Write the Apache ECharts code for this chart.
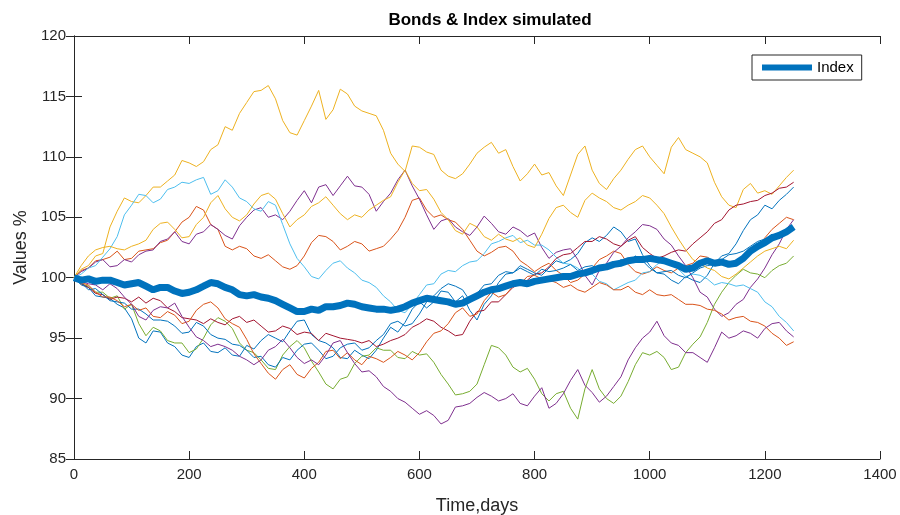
<!DOCTYPE html>
<html>
<head>
<meta charset="utf-8">
<script src="https://cdn.jsdelivr.net/npm/echarts@6/dist/echarts.min.js"></script>
<style>
  html, body { margin: 0; padding: 0; background: #fff; }
  #chart { width: 900px; height: 515px; }
</style>
</head>
<body>
<div id="chart"></div>
<script>
// sample days (every 12.5 days)
const days = [0, 12.5, 25, 37.5, 50, 62.5, 75, 87.5, 100, 112.5, 125, 137.5, 150, 162.5, 175, 187.5, 200, 212.5, 225, 237.5,
  250, 262.5, 275, 287.5, 300, 312.5, 325, 337.5, 350, 362.5, 375, 387.5, 400, 412.5, 425, 437.5, 450, 462.5, 475, 487.5,
  500, 512.5, 525, 537.5, 550, 562.5, 575, 587.5, 600, 612.5, 625, 637.5, 650, 662.5, 675, 687.5, 700, 712.5, 725, 737.5,
  750, 762.5, 775, 787.5, 800, 812.5, 825, 837.5, 850, 862.5, 875, 887.5, 900, 912.5, 925, 937.5, 950, 962.5, 975, 987.5,
  1000, 1012.5, 1025, 1037.5, 1050, 1062.5, 1075, 1087.5, 1100, 1112.5, 1125, 1137.5, 1150, 1162.5, 1175, 1187.5, 1200, 1212.5, 1225, 1237.5,
  1250]

// bonds, values in %
const blue1 = [100, 99.4, 99.2, 98.5, 98.4, 98.3, 97.8, 97.5, 96.6, 95.0, 94.6, 95.6, 95.5, 94.6, 94.3, 93.6, 93.4, 94.3, 94.6, 93.9,
  93.8, 94.2, 93.6, 93.5, 94.4, 94.1, 94.8, 95.3, 95.0, 94.7, 95.6, 96.4, 96.5, 95.3, 94.8, 94.6, 94.2, 93.4, 93.3, 94.0,
  93.6, 93.3, 94.0, 95.0, 95.9, 95.5, 96.3, 97.4, 98.0, 97.5, 98.0, 98.9, 98.8, 98.0, 98.5, 97.3, 96.5, 97.8, 98.5, 99.6,
  100.3, 100.4, 101.0, 100.7, 100.4, 100.2, 100.8, 101.4, 101.2, 101.5, 102.0, 102.9, 103.3, 103.0, 103.5, 104.2, 103.8, 103.0, 103.2, 101.9,
  101.0, 100.4, 100.3, 99.8, 99.5, 100.1, 99.8, 99.6, 100.2, 101.2, 101.8, 102.0, 102.8, 103.9, 104.8, 105.2, 106.0, 105.7, 106.4, 106.9,
  107.5]
const orange1 = [100, 100.6, 100.8, 101.4, 101.5, 101.7, 102.2, 101.5, 101.6, 102.2, 102.3, 102.4, 102.9, 103.1, 103.8, 104.6, 105.0, 105.9, 105.6, 104.4,
  104.0, 102.6, 102.3, 102.6, 102.4, 101.8, 101.6, 101.9, 101.4, 100.9, 100.7, 101.0, 101.8, 102.9, 103.5, 103.4, 103.0, 102.3, 102.6, 103.0,
  102.8, 102.2, 102.4, 102.6, 103.2, 103.9, 105.0, 106.4, 106.6, 105.6, 105.0, 105.2, 104.8, 104.6, 104.0, 103.1, 102.2, 101.8, 102.1, 102.5,
  102.6, 102.2, 101.4, 101.0, 100.5, 100.9, 101.2, 100.6, 100.2, 99.6, 99.8, 100.3, 100.8, 101.5, 101.8, 102.2, 102.0, 101.1, 100.5, 100.3,
  100.5, 100.9, 100.6, 100.4, 100.8, 101.0, 101.2, 101.8, 101.7, 101.3, 101.5, 101.1, 101.3, 101.6, 102.2, 102.6, 103.3, 104.0, 104.5, 105.0,
  104.8]
const yellow1 = [100, 100.7, 101, 101.8, 102, 104.2, 105.5, 106.6, 106.3, 106.2, 106.8, 107.5, 107.5, 108.0, 108.5, 109.7, 109.5, 109.2, 109.6, 110.6,
  111.0, 112.5, 112.2, 113.6, 114.5, 115.4, 115.5, 115.9, 114.8, 113.0, 112.0, 111.8, 113.0, 114.2, 115.5, 113.1, 113.9, 115.6, 115.2, 114.2,
  113.8, 113.6, 113.4, 112.2, 110.3, 109.4, 108.8, 110.9, 110.8, 110.4, 110.2, 108.9, 108.4, 108.2, 108.6, 109.4, 110.3, 110.8, 111.2, 110.3,
  110.6, 109.2, 108.0, 108.6, 109.4, 108.5, 108.7, 107.6, 106.8, 108.5, 110.2, 110.9, 108.9, 107.8, 107.3, 108.2, 108.9, 109.8, 110.6, 110.9,
  110.0, 109.3, 108.6, 110.8, 111.6, 110.6, 110.3, 110.0, 109.5, 107.9, 106.7, 106.0, 105.8, 107.3, 107.8, 107.0, 107.2, 106.9, 107.6, 108.3,
  108.9]
const purple1 = [100, 100.5, 100.8, 101.3, 101.5, 100.9, 101.0, 101.5, 101.3, 101.9, 102.2, 102.3, 103.0, 103.2, 103.8, 103.0, 102.8, 103.6, 103.8, 104.4,
  104.0, 103.5, 103.2, 104.3, 105.0, 105.6, 105.8, 105.0, 105.2, 104.8, 105.5, 106.4, 107.2, 106.2, 107.5, 107.7, 106.8, 107.6, 108.4, 107.6,
  107.5, 106.9, 105.5, 106.3, 107.0, 108.1, 108.9, 107.6, 106.5, 105.2, 104.0, 104.7, 104.9, 104.2, 103.8, 103.5, 104.2, 105.1, 104.5, 103.8,
  103.6, 104.2, 103.9, 103.4, 103.7, 102.5, 101.6, 102.1, 102.3, 102.4, 101.5, 100.2, 99.4, 100.6, 101.2, 102.1, 102.6, 103.3, 103.8, 104.4,
  104.3, 104.0, 103.2, 102.7, 101.8, 101.0, 100.0, 98.8, 98.4, 97.4, 96.8, 97.1, 97.8, 98.2, 99.2, 99.9, 100.8, 101.9, 102.8, 104.0,
  104.8]
const green1 = [100, 99.5, 99.3, 98.8, 98.8, 98.3, 98.5, 97.4, 97.8, 96.2, 95.2, 95.9, 95.6, 94.8, 94.6, 94.6, 93.8, 94.1, 95.0, 96.1,
  96.7, 96.4, 95.8, 94.6, 94.0, 93.8, 93.2, 92.5, 92.4, 93.6, 94.3, 94.8, 94.2, 93.1, 92.2, 91.2, 90.8, 91.6, 91.8, 92.9,
  93.5, 93.6, 94.2, 94.0, 94.0, 93.4, 93.3, 93.9, 93.6, 93.7, 93.0, 92.0, 91.2, 90.3, 90.4, 90.6, 91.2, 92.8, 94.4, 94.2,
  93.6, 92.6, 92.2, 92.5, 91.6, 90.4, 89.8, 90.4, 90.6, 89.2, 88.3, 90.8, 92.4, 90.8, 90.0, 89.6, 90.2, 91.4, 92.8, 93.8,
  93.6, 93.9, 93.4, 92.4, 92.6, 93.8, 94.5, 95.1, 96.3, 97.8, 98.8, 99.6, 100.2, 100.7, 100.4, 100.3, 100.0, 100.6, 101.0, 101.2,
  101.8]
const lightblue1 = [100, 100.3, 100.8, 101.0, 101.7, 102.4, 103.4, 105.2, 106.0, 106.9, 106.8, 106.2, 106.5, 107.3, 107.5, 107.9, 107.8, 108.1, 108.3, 106.9,
  107.2, 108.1, 107.5, 106.6, 106.3, 105.7, 105.5, 106.3, 106.0, 104.4, 102.8, 101.6, 100.9, 100.1, 99.9, 100.6, 101.2, 101.4, 100.8, 100.4,
  99.8, 99.6, 99.2, 98.5, 98.0, 97.3, 97.1, 97.8, 98.6, 99.4, 99.5, 100.3, 100.6, 100.5, 101.0, 101.3, 101.4, 102.0, 102.8, 103.0,
  103.3, 103.5, 102.9, 103.1, 102.7, 102.7, 102.3, 101.7, 101.2, 101.1, 100.8, 100.2, 100.3, 99.7, 99.5, 99.0, 99.3, 99.6, 99.8, 100.4,
  100.5, 101.1, 101.4, 101.2, 100.7, 100.1, 100.3, 100.2, 99.9, 99.4, 99.6, 99.5, 99.3, 99.4, 99.1, 98.8, 98.0, 97.6, 96.8, 96.3,
  95.6]
const darkred1 = [100, 99.5, 99.2, 98.7, 98.6, 98.2, 98.4, 98.3, 98.0, 98.4, 97.9, 98.3, 98.1, 97.5, 97.2, 96.7, 96.6, 96.5, 96.2, 96.6,
  96.3, 96.1, 96.6, 96.8, 96.3, 96.5, 96.0, 95.5, 95.6, 96.0, 95.8, 95.3, 95.5, 95.4, 94.8, 95.4, 95.2, 95.0, 94.9, 94.8,
  94.6, 94.8, 94.3, 94.5, 94.8, 95.0, 95.3, 95.9, 96.2, 96.6, 96.4, 95.9, 95.6, 95.2, 95.3, 96.4, 97.2, 97.3, 98.0, 98.0,
  98.6, 99.2, 99.5, 99.8, 100.3, 100.4, 100.9, 101.6, 101.9, 102.0, 102.5, 103.0, 103.0, 103.4, 103.2, 102.8, 102.6, 103.1, 103.4, 102.5,
  102.0, 101.6, 101.8, 102.1, 102.3, 102.2, 102.8, 103.3, 103.8, 104.5, 104.8, 105.6, 106.0, 106.1, 106.3, 106.4, 106.8, 107.0, 107.4, 107.5,
  107.9]
const blue2 = [100, 99.6, 99.0, 99.1, 98.6, 98.1, 98.0, 97.9, 97.4, 97.4, 97.0, 96.5, 96.5, 96.4, 96.0, 95.4, 95.5, 96.3, 96.0, 95.3,
  95.0, 94.9, 94.5, 94.4, 94.0, 93.4, 93.5, 92.8, 92.6, 93.4, 93.2, 94.0, 94.5, 94.6, 94.0, 93.3, 93.5, 94.2, 94.5, 94.6,
  94.0, 94.2, 94.8, 95.3, 96.2, 96.4, 96.0, 96.2, 97.0, 98.0, 98.5, 99.1, 99.5, 99.3, 99.0, 98.1, 98.7, 99.4, 99.5, 100.2,
  100.5, 100.4, 100.8, 100.5, 100.2, 100.7, 100.5, 100.6, 100.8, 101.1, 100.6, 100.9, 101.0, 100.6, 100.8, 101.0, 101.5, 101.3, 101.8, 101.4,
  100.8, 100.4, 100.5, 100.6, 100.2, 100.0, 100.4, 100.8, 101.0, 101.1, 101.5, 101.9, 102.0, 102.2, 102.6, 103.0, 103.2, 103.6, 103.3, 103.6,
  104.0]
const orange2 = [100, 99.6, 99.4, 98.8, 98.4, 98.4, 98.1, 97.6, 97.8, 97.3, 97.5, 96.8, 96.7, 97.2, 96.9, 96.2, 96.4, 97.3, 97.8, 98.0,
  97.5, 96.6, 96.2, 95.9, 94.9, 93.7, 92.9, 92.1, 91.6, 92.4, 92.8, 92.0, 91.7, 92.5, 93.0, 93.9, 94.0, 93.3, 93.8, 93.2,
  92.8, 93.5, 93.3, 93.0, 93.4, 93.9, 93.6, 93.2, 93.8, 94.7, 95.4, 95.6, 96.2, 97.1, 97.5, 96.8, 97.0, 98.1, 98.8, 98.4,
  98.6, 99.3, 99.5, 100.1, 100.2, 99.9, 99.8, 99.6, 99.2, 99.4, 99.0, 98.8, 99.2, 99.6, 99.4, 99.0, 99.0, 99.3, 98.8, 98.6,
  99.0, 98.6, 98.5, 98.6, 98.2, 97.8, 97.8, 97.7, 97.4, 97.3, 97.0, 96.5, 96.7, 96.8, 96.4, 96.3, 96.0, 95.4, 95.0, 94.4,
  94.7]
const yellow2 = [100, 101.0, 101.8, 102.3, 102.5, 102.6, 102.4, 102.3, 102.6, 102.8, 103.1, 104.0, 104.5, 104.6, 104.0, 103.3, 103.4, 104.4, 105.0, 106.2,
  106.8, 105.7, 105.0, 104.7, 105.2, 106.1, 106.8, 107.0, 106.5, 105.3, 104.2, 104.8, 105.2, 105.9, 106.2, 106.7, 106.0, 105.3, 104.8, 105.2,
  105.0, 105.6, 106.0, 106.4, 106.7, 107.9, 108.9, 107.8, 107.2, 107.3, 106.5, 105.4, 104.8, 103.9, 103.6, 104.5, 104.2, 103.4, 103.1, 103.6,
  103.2, 103.0, 103.3, 102.7, 102.5, 103.6, 104.9, 105.8, 106.0, 105.4, 105.0, 106.4, 107.0, 106.6, 106.3, 105.8, 105.6, 106.0, 106.3, 106.8,
  106.6, 106.0, 105.3, 104.2, 103.2, 102.3, 101.5, 101.2, 100.8, 100.6, 100.1, 99.9, 100.3, 100.8, 101.3, 101.8, 102.2, 102.4, 102.6, 102.4,
  103.1]
const purple2 = [100, 99.7, 99.5, 99.4, 99.0, 99.5, 99.1, 98.4, 97.8, 96.8, 96.5, 97.3, 97.6, 97.5, 97.9, 96.8, 95.9, 95.1, 94.8, 94.3,
  94.5, 94.3, 94.0, 93.5, 93.2, 92.8, 93.2, 94.0, 94.3, 94.9, 94.2, 93.4, 92.9, 93.2, 92.8, 93.6, 94.6, 94.8, 93.8, 92.9,
  92.2, 92.3, 91.8, 91.0, 90.6, 90.0, 89.7, 89.2, 88.7, 89.0, 88.6, 87.9, 88.2, 89.3, 89.4, 89.6, 90.1, 90.5, 90.2, 89.8,
  90.0, 90.4, 89.6, 89.4, 90.2, 90.9, 89.2, 89.6, 90.4, 91.5, 92.4, 91.1, 90.5, 89.7, 90.2, 91.0, 91.8, 93.2, 94.2, 95.0,
  95.5, 96.4, 95.2, 94.6, 94.4, 93.8, 93.8, 93.4, 93.0, 94.2, 95.5, 95.0, 95.2, 95.6, 95.4, 95.0, 95.8, 96.2, 96.3, 95.6,
  95.1]

// index
const indexVals = [100, 99.8, 99.9, 99.7, 99.8, 99.8, 99.6, 99.4, 99.5, 99.6, 99.3, 99.0, 99.2, 99.2, 98.9, 98.7, 98.8, 99.0, 99.3, 99.6,
  99.5, 99.2, 99.0, 98.6, 98.5, 98.6, 98.4, 98.3, 98.1, 97.8, 97.5, 97.2, 97.2, 97.4, 97.3, 97.6, 97.6, 97.7, 97.9, 97.8,
  97.6, 97.5, 97.4, 97.4, 97.3, 97.4, 97.6, 97.9, 98.1, 98.3, 98.2, 98.1, 98.0, 97.8, 97.9, 98.2, 98.5, 98.8, 99.0, 99.1,
  99.3, 99.5, 99.6, 99.5, 99.7, 99.8, 99.9, 100.0, 100.1, 100.1, 100.3, 100.4, 100.6, 100.8, 100.9, 101.1, 101.2, 101.4, 101.5, 101.5,
  101.6, 101.5, 101.4, 101.2, 101.0, 100.7, 100.8, 101.2, 101.4, 101.2, 101.3, 101.1, 101.2, 101.6, 102.2, 102.6, 102.9, 103.3, 103.5, 103.8,
  104.2]

const bonds = [
  [blue1, '#0072BD'], [orange1, '#D95319'], [yellow1, '#EDB120'], [purple1, '#7E2F8E'],
  [green1, '#77AC30'], [lightblue1, '#4DBEEE'], [darkred1, '#A2142F'], [blue2, '#0072BD'],
  [orange2, '#D95319'], [yellow2, '#EDB120'], [purple2, '#7E2F8E']
]

const pairs = vals => vals.map((v, i) => [days[i], v])

const chart = echarts.init(document.getElementById('chart'), null, { renderer: 'canvas' })
const font = 'Liberation Sans, Arial, Helvetica, sans-serif'
const axisColor = '#262626'

const series = bonds.map(([vals, color], i) => ({
  name: 'bond' + (i + 1),
  type: 'line',
  data: pairs(vals),
  showSymbol: false,
  symbol: 'none',
  lineStyle: { width: 1, color },
  itemStyle: { color },
  silent: true,
}))
series.push({
  name: 'Index',
  type: 'line',
  data: pairs(indexVals),
  showSymbol: false,
  symbol: 'none',
  lineStyle: { width: 7, color: '#0072BD' },
  itemStyle: { color: '#0072BD' },
  silent: true,
})

const plain = v => String(v)

const option = {
  animation: false,
  textStyle: { fontFamily: font },
  title: {
    text: 'Bonds & Index simulated',
    left: 485,
    top: 7,
    textAlign: 'center',
    textStyle: { fontSize: 17, fontWeight: 'bold', color: '#000', fontFamily: font },
  },
  legend: {
    data: [{ name: 'Index', icon: 'rect' }],
    left: 752,
    top: 55,
    padding: [5, 8, 5, 10],
    itemWidth: 50,
    itemHeight: 6,
    itemGap: 5,
    borderColor: axisColor,
    borderWidth: 1,
    backgroundColor: '#fff',
    textStyle: { fontSize: 15, color: '#000', fontFamily: font },
  },
  grid: { left: 74, right: 20, top: 36, bottom: 56, containLabel: false, outerBoundsMode: 'none' },
  xAxis: [
    {
      type: 'value',
      min: 0,
      max: 1400,
      interval: 200,
      position: 'bottom',
      name: 'Time,days',
      nameLocation: 'middle',
      nameGap: 38,
      nameTextStyle: { fontSize: 18, color: axisColor, fontFamily: font },
      axisLine: { show: true, lineStyle: { color: axisColor, width: 1 } },
      axisTick: { show: true, inside: true, length: 8, lineStyle: { color: axisColor } },
      axisLabel: { fontSize: 15, color: axisColor, margin: 8, fontFamily: font, formatter: plain },
      splitLine: { show: false },
    },
    {
      type: 'value',
      min: 0,
      max: 1400,
      interval: 200,
      position: 'top',
      axisLine: { show: true, lineStyle: { color: axisColor, width: 1 } },
      axisTick: { show: true, inside: true, length: 8, lineStyle: { color: axisColor } },
      axisLabel: { show: false },
      splitLine: { show: false },
    },
  ],
  yAxis: [
    {
      type: 'value',
      min: 85,
      max: 120,
      interval: 5,
      position: 'left',
      name: 'Values %',
      nameLocation: 'middle',
      nameGap: 40,
      nameRotate: 90,
      nameTextStyle: { fontSize: 18, color: axisColor, fontFamily: font },
      axisLine: { show: true, lineStyle: { color: axisColor, width: 1 } },
      axisTick: { show: true, inside: true, length: 8, lineStyle: { color: axisColor } },
      axisLabel: { fontSize: 15, color: axisColor, margin: 8, fontFamily: font, formatter: plain },
      splitLine: { show: false },
    },
    {
      type: 'value',
      min: 85,
      max: 120,
      interval: 5,
      position: 'right',
      axisLine: { show: true, lineStyle: { color: axisColor, width: 1 } },
      axisTick: { show: true, inside: true, length: 8, lineStyle: { color: axisColor } },
      axisLabel: { show: false },
      splitLine: { show: false },
    },
  ],
  series,
}

chart.setOption(option)
</script>
</body>
</html>
